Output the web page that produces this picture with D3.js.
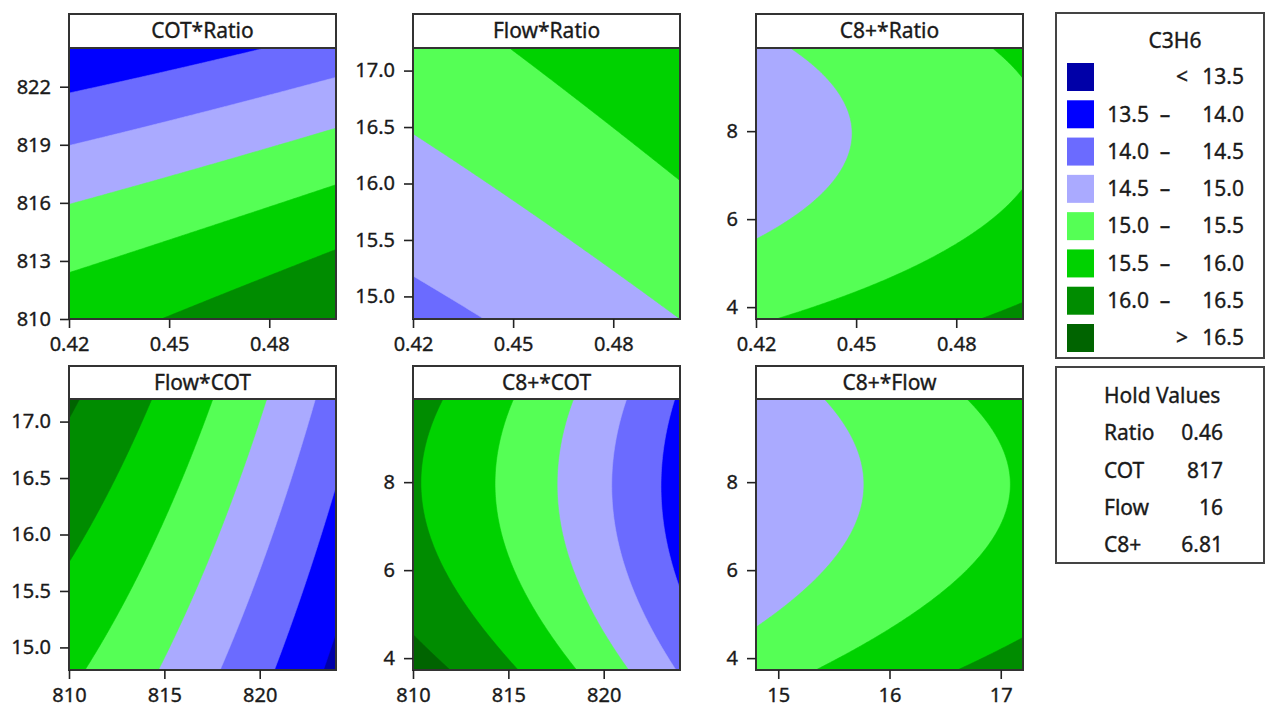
<!DOCTYPE html>
<html><head><meta charset="utf-8">
<script src="https://cdn.jsdelivr.net/npm/d3@7"></script>
<style>
body{margin:0;background:#fff}
text{font-family:"Noto Sans",sans-serif;fill:#1a1a1a;stroke:#1a1a1a;stroke-width:0.35px}
</style>
</head><body>
<svg id="chart" width="1266" height="709"></svg>
<script>
// ---- data ----
const factorNames = ["Ratio", "COT", "Flow", "C8+"];
const factorLow  = [0.42, 810, 14.8, 3.73];
const factorHigh = [0.50, 824, 17.2, 9.89];
const holdValues = [0.46, 817, 16, 6.81];
const holdLabels = ["0.46", "817", "16", "6.81"];

// fitted quadratic response surface for C3H6 (coded units -1..1), estimated from the contours
const intercept = 15.14;
const linearCoef = [0.33, -1.13, 0.47, -0.266];
const squareCoef = [0.02, -0.17, -0.02, 0.36];
const interactionPairs = [[0,1],[0,2],[0,3],[1,2],[1,3],[2,3]];
const interactionCoef = [0, 0, 0, -0.015, 0.01, 0];

const levelBreaks = [13.5, 14.0, 14.5, 15.0, 15.5, 16.0, 16.5];
const levelColors = ["#0000a8", "#0000ff", "#6b6bff", "#aaaaff", "#55ff55", "#00d200", "#008c00", "#006400"];
const legendLow  = ["", "13.5", "14.0", "14.5", "15.0", "15.5", "16.0", ""];
const legendMid  = ["<", "–", "–", "–", "–", "–", "–", ">"];
const legendHigh = ["13.5", "14.0", "14.5", "15.0", "15.5", "16.0", "16.5", "16.5"];

const panelTitles = ["COT*Ratio", "Flow*Ratio", "C8+*Ratio", "Flow*COT", "C8+*COT", "C8+*Flow"];
const panelXFactor = [0, 0, 0, 1, 1, 2];
const panelYFactor = [1, 2, 3, 2, 3, 3];

const ratioTicks = [0.42, 0.45, 0.48];
const cotTicksY = [810, 813, 816, 819, 822];
const cotTicksX = [810, 815, 820];
const flowTicksY = [15.0, 15.5, 16.0, 16.5, 17.0];
const flowTicksX = [15, 16, 17];
const c8Ticks = [4, 6, 8];
const panelXTicks = [ratioTicks, ratioTicks, ratioTicks, cotTicksX, cotTicksX, flowTicksX];
const panelYTicks = [cotTicksY, flowTicksY, c8Ticks, flowTicksY, c8Ticks, c8Ticks];
const panelXFormat = [".2f", ".2f", ".2f", "d", "d", "d"];
const panelYFormat = ["d", ".1f", "d", ".1f", "d", "d"];

// ---- layout ----
const colLeft = [69, 413, 756];
const plotW = 267;
const rowTitleTop = [14, 366];
const rowPlotTop = [48, 399];
const plotH = 271;
const FS = 20, FT = 21;

const svg = d3.select("#chart");

function coded(i, v) {
  const mid = (factorLow[i] + factorHigh[i]) / 2, half = (factorHigh[i] - factorLow[i]) / 2;
  return (v - mid) / half;
}
function response(vals) {
  const x = vals.map((v, i) => coded(i, v));
  let z = intercept;
  for (let i = 0; i < 4; i++) z += linearCoef[i] * x[i] + squareCoef[i] * x[i] * x[i];
  interactionPairs.forEach((p, k) => { z += interactionCoef[k] * x[p[0]] * x[p[1]]; });
  return z;
}

const N = 160;
panelTitles.forEach((title, p) => {
  const col = p % 3, row = Math.floor(p / 3);
  const x0 = colLeft[col], y0 = rowPlotTop[row];
  const fx = panelXFactor[p], fy = panelYFactor[p];
  const xs = d3.scaleLinear().domain([factorLow[fx], factorHigh[fx]]).range([x0, x0 + plotW]);
  const ys = d3.scaleLinear().domain([factorLow[fy], factorHigh[fy]]).range([y0 + plotH, y0]);
  const gx = d3.scaleLinear().domain([0, N]).range([factorLow[fx], factorHigh[fx]]);
  const gy = d3.scaleLinear().domain([0, N]).range([factorHigh[fy], factorLow[fy]]);

  const values = new Float64Array(N * N);
  for (let j = 0; j < N; j++) {
    for (let i = 0; i < N; i++) {
      const v = holdValues.slice();
      v[fx] = gx(i + 0.5);
      v[fy] = gy(j + 0.5);
      values[j * N + i] = response(v);
    }
  }
  const contours = d3.contours().size([N, N]).thresholds(levelBreaks)(values);
  const proj = d3.geoTransform({ point(x, y) { this.stream.point(xs(gx(x)), ys(gy(y))); } });
  const path = d3.geoPath(proj);

  const g = svg.append("g");
  const clipId = "clip" + p;
  g.append("clipPath").attr("id", clipId).append("rect")
    .attr("x", x0).attr("y", y0).attr("width", plotW).attr("height", plotH);
  const cg = g.append("g").attr("clip-path", `url(#${clipId})`);
  cg.append("rect").attr("x", x0).attr("y", y0).attr("width", plotW).attr("height", plotH)
    .attr("fill", levelColors[0]);
  cg.selectAll("path.band").data(contours).join("path").attr("class", "band")
    .attr("d", path)
    .attr("fill", (d, i) => levelColors[i + 1])
    .attr("stroke", (d, i) => levelColors[i + 1]).attr("stroke-width", 0.6);

  // title box
  const tTop = rowTitleTop[row];
  g.append("rect").attr("x", x0).attr("y", tTop).attr("width", plotW).attr("height", y0 - tTop)
    .attr("fill", "#fff").attr("stroke", "#333").attr("stroke-width", 2);
  g.append("text").attr("x", x0 + plotW / 2).attr("y", (tTop + y0) / 2).attr("dy", "0.35em")
    .attr("text-anchor", "middle").attr("font-size", FT).text(title);

  // frame
  g.append("rect").attr("x", x0).attr("y", y0).attr("width", plotW).attr("height", plotH)
    .attr("fill", "none").attr("stroke", "#333").attr("stroke-width", 2);

  // axes
  const ax = g.append("g").attr("transform", `translate(0,${y0 + plotH})`)
    .call(d3.axisBottom(xs).tickValues(panelXTicks[p]).tickFormat(d3.format(panelXFormat[p])).tickSize(9).tickPadding(9));
  const ay = g.append("g").attr("transform", `translate(${x0},0)`)
    .call(d3.axisLeft(ys).tickValues(panelYTicks[p]).tickFormat(d3.format(panelYFormat[p])).tickSize(9).tickPadding(9));
  [ax, ay].forEach(a => {
    a.select(".domain").remove();
    a.selectAll(".tick line").attr("stroke", "#222").attr("stroke-width", 1.6);
    a.selectAll(".tick text").attr("font-size", FS).attr("font-family", "Noto Sans").attr("fill", "#1a1a1a");
  });
});

// ---- legend ----
const lg = svg.append("g");
lg.append("rect").attr("x", 1056).attr("y", 13).attr("width", 208).attr("height", 345)
  .attr("fill", "#fff").attr("stroke", "#444").attr("stroke-width", 2);
lg.append("text").attr("x", 1175).attr("y", 41).attr("dy", "0.35em").attr("text-anchor", "middle")
  .attr("font-size", FT).text("C3H6");
const ly = d3.scaleLinear().domain([0, 7]).range([77, 338]);
levelColors.forEach((c, i) => {
  const cy = ly(i);
  lg.append("rect").attr("x", 1067).attr("y", cy - 14).attr("width", 27).attr("height", 28).attr("fill", c);
  lg.append("text").attr("x", 1149).attr("y", cy).attr("dy", "0.35em").attr("text-anchor", "end")
    .attr("font-size", FT).text(legendLow[i]);
  lg.append("text").attr("x", i === 0 || i === 7 ? 1182 : 1165).attr("y", cy).attr("dy", "0.35em").attr("text-anchor", "middle")
    .attr("font-size", FT).text(legendMid[i]);
  lg.append("text").attr("x", 1244).attr("y", cy).attr("dy", "0.35em").attr("text-anchor", "end")
    .attr("font-size", FT).text(legendHigh[i]);
});

// ---- hold values ----
const hg = svg.append("g");
hg.append("rect").attr("x", 1056).attr("y", 367).attr("width", 208).attr("height", 196)
  .attr("fill", "#fff").attr("stroke", "#444").attr("stroke-width", 2);
hg.append("text").attr("x", 1104).attr("y", 396).attr("dy", "0.35em").attr("font-size", FT).text("Hold Values");
const hy = d3.scaleLinear().domain([0, 3]).range([433, 545]);
factorNames.forEach((n, i) => {
  hg.append("text").attr("x", 1104).attr("y", hy(i)).attr("dy", "0.35em").attr("font-size", FT).text(n);
  hg.append("text").attr("x", 1223).attr("y", hy(i)).attr("dy", "0.35em").attr("text-anchor", "end")
    .attr("font-size", FT).text(holdLabels[i]);
});
</script>
</body></html>
